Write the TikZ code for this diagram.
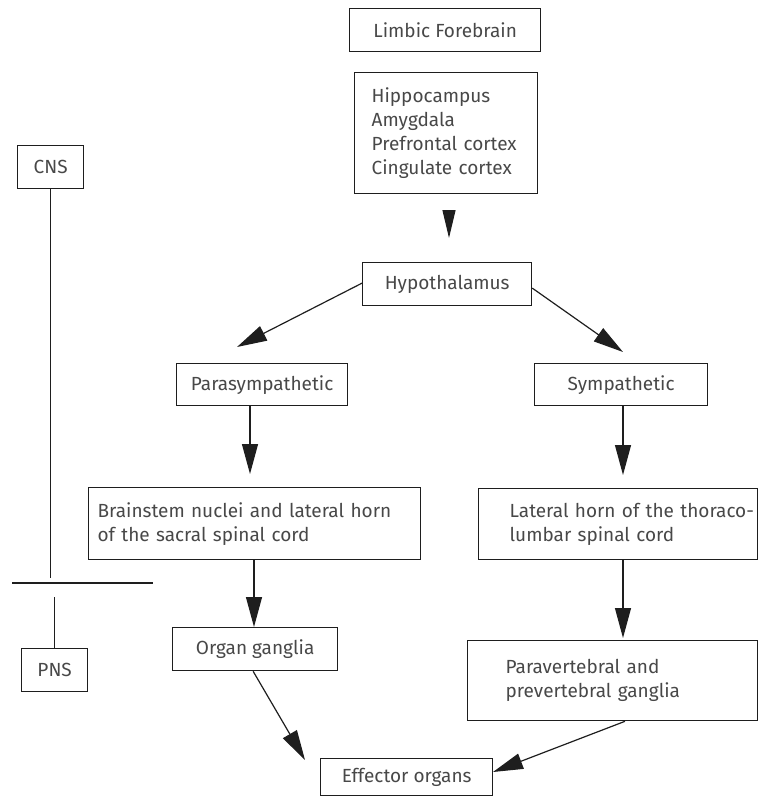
\documentclass[tikz,border=0pt]{standalone}
\usepackage{fontspec}
\setmainfont{Fira Sans}
\usetikzlibrary{arrows.meta}
\definecolor{inkline}{HTML}{1E1E1E}
\definecolor{inktext}{HTML}{484848}
\begin{document}
\begin{tikzpicture}[x=1pt,y=-1pt,
  box/.style={draw=inkline, line width=1.3pt, inner sep=0pt, anchor=north west,
    font=\fontsize{19}{24}\selectfont, text=inktext},
  lbox/.style={box, align=left},
  plain/.style={draw=inkline, line width=1.3pt},
  arr/.style={draw=inkline, line width=1.2pt, -{Triangle[length=30pt,width=16pt]}},
]
\useasboundingbox (0,0) rectangle (759,797);

% central chain
\node[box, minimum width=191, minimum height=43] (lim) at (349,8) {Limbic Forebrain};
\node[lbox, minimum width=183, minimum height=121, inner xsep=17pt, text width=149pt] (hip) at (354,72)
  {\mbox{Hippocampus}\\\mbox{Amygdala}\\\mbox{Prefrontal cortex}\\\mbox{Cingulate cortex}};
\node[box, minimum width=169, minimum height=43] (hyp) at (362,262) {Hypothalamus};

% two branches
\node[box, minimum width=171, minimum height=42] (para) at (176,363) {Parasympathetic};
\node[box, minimum width=173, minimum height=42] (sym) at (534,363) {Sympathetic};

\node[lbox, minimum width=332, minimum height=72, inner xsep=9pt, text width=314pt] (brain) at (88,487)
  {\mbox{Brainstem nuclei and lateral horn}\\\mbox{of the sacral spinal cord}};
\node[lbox, minimum width=279, minimum height=71, inner xsep=31pt, text width=217pt] (lat) at (478,488)
  {\mbox{Lateral horn of the thoraco-}\\\mbox{lumbar spinal cord}};

\node[box, minimum width=165, minimum height=43] (organ) at (172,627) {Organ ganglia};
\node[lbox, minimum width=290, minimum height=80, inner xsep=38pt, text width=214pt] (pvg) at (467,640)
  {\mbox{Paravertebral and}\\\mbox{prevertebral ganglia}};

\node[box, minimum width=172, minimum height=37] (eff) at (320,758) {Effector organs};

% CNS / PNS scale on the left
\node[box, minimum width=66, minimum height=43] (cns) at (17,145) {CNS};
\node[box, minimum width=66, minimum height=43] (pns) at (21,648) {PNS};
\coordinate (cutL) at (12,583);
\coordinate (cutR) at (153,583);
\coordinate (cnsEnd) at (0,578);
\coordinate (pnsTop) at (0,597);
\draw[plain] (cns.south) -- (cns.south |- cnsEnd);
\draw[plain] (cutL) -- (cutR);
\draw[plain] (pns.north) -- (pns.north |- pnsTop);

% arrow tips
\coordinate (hA) at (449,210);
\coordinate (hB) at (449,238);
\coordinate (tPL) at (237,347);
\coordinate (tPR) at (623,352);
\coordinate (tP) at (250,474);
\coordinate (tS) at (623,475);
\coordinate (tB) at (254,627);
\coordinate (tL) at (623,638);
\coordinate (tE1) at (305,760);
\coordinate (tE2) at (493,772);
\coordinate (sE2) at (625,0);

% connectors
\draw[draw=inkline, line width=1.2pt, -{Triangle[length=28pt,width=13pt]}] (hA) -- (hB);
\draw[arr] ([yshift=1pt]hyp.west) -- (tPL);
\draw[arr] ([yshift=-4pt]hyp.east) -- (tPR);
\draw[arr] (para.south -| tP) -- (tP);
\draw[arr] (sym.south -| tS) -- (tS);
\draw[arr] (brain.south -| tB) -- (tB);
\draw[arr] (lat.south -| tL) -- (tL);
\draw[arr] ([xshift=-2pt]organ.south) -- (tE1);
\draw[arr] (pvg.south -| sE2) -- (tE2);
\end{tikzpicture}
\end{document}
